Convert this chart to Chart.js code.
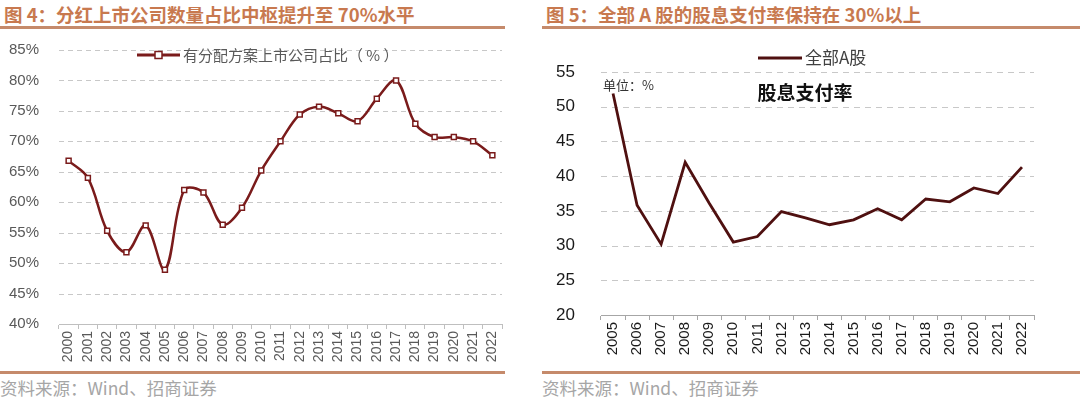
<!DOCTYPE html>
<html>
<head>
<meta charset="utf-8">
<script src="https://cdn.jsdelivr.net/npm/chart.js@4.4.0/dist/chart.umd.min.js"></script>
<style>
  body { margin: 0; background: #fff; width: 1080px; height: 397px; overflow: hidden; position: relative; }
  .title { position: absolute; top: 0; height: 26px; line-height: 28px; font-family: "Noto Sans CJK SC", sans-serif; font-weight: bold; font-size: 18.5px; color: #c8794f; white-space: nowrap; border-bottom: 3px solid #c58a6b; padding-left: 4px; box-sizing: content-box; }
  .source { position: absolute; top: 371px; height: 26px; line-height: 28px; font-family: "Noto Sans CJK SC", sans-serif; font-size: 17.5px; color: #a6a6a6; white-space: nowrap; border-top: 3px solid #c58a6b; }
  .box { position: absolute; top: 29px; height: 342px; }
</style>
</head>
<body>
<div class="title" style="left:0; width:501px;">图 4：分红上市公司数量占比中枢提升至 70%水平</div>
<div class="title" style="left:542px; width:534px;">图 5：全部 A 股的股息支付率保持在 30%以上</div>
<div class="box" style="left:0; width:530px;"><canvas id="left"></canvas></div>
<div class="box" style="left:540px; width:540px;"><canvas id="right"></canvas></div>
<div class="source" style="left:0; width:505px;">资料来源：Wind、招商证券</div>
<div class="source" style="left:542px; width:538px;">资料来源：Wind、招商证券</div>
<script>
// left chart data
const yearsLeft = ['2000','2001','2002','2003','2004','2005','2006','2007','2008','2009','2010','2011',
  '2012','2013','2014','2015','2016','2017','2018','2019','2020','2021','2022'];
const shareWithPlan = [66.8, 64.0, 55.3, 51.8, 56.2, 48.9, 62.0, 61.6, 56.3, 59.1, 65.2, 70.0,
  74.4, 75.7, 74.6, 73.3, 77.0, 80.0, 72.9, 70.7, 70.7, 70.0, 67.7];
const leftLabel = '有分配方案上市公司占比（ % ）';

// right chart data
const yearsRight = ['2005','2006','2007','2008','2009','2010','2011','2012','2013','2014','2015',
  '2016','2017','2018','2019','2020','2021','2022'];
const payoutRatio = [51.9, 35.8, 30.2, 42.0, 36.1, 30.5, 31.3, 34.9, 34.0, 33.0, 33.7,
  35.3, 33.7, 36.7, 36.3, 38.3, 37.5, 41.3];
const rightLabel = '全部A股';

const cjk = '"Noto Sans CJK SC", sans-serif';
const latin = '"Liberation Sans", Arial, sans-serif';
const leftRed = '#7a1b1b';
const rightRed = '#4f1010';

// dashed horizontal gridlines at the y ticks (bottom one is the x axis)
const dashGrid = {
  id: 'dashGrid',
  beforeDatasetsDraw(chart, args, o) {
    const c = chart.ctx;
    const y = chart.scales.y;
    const area = chart.chartArea;
    c.save();
    c.strokeStyle = o.color;
    c.lineWidth = 1;
    c.setLineDash(o.dash);
    y.ticks.forEach(t => {
      if (t.value === y.min) return;
      const py = Math.round(y.getPixelForValue(t.value)) + 0.5;
      c.beginPath();
      c.moveTo(area.left, py);
      c.lineTo(area.right, py);
      c.stroke();
    });
    c.restore();
  }
};

// draws the line legend (and extra notes) inside the canvas
const legendPlugin = {
  id: 'lineLegend',
  afterDraw(chart, args, o) {
    const c = chart.ctx;
    const ds = chart.data.datasets[0];
    c.save();
    c.strokeStyle = ds.borderColor;
    c.lineWidth = 3;
    c.beginPath();
    c.moveTo(o.x, o.y);
    c.lineTo(o.x + o.len, o.y);
    c.stroke();
    if (o.marker) {
      c.fillStyle = '#fff';
      c.lineWidth = 1.5;
      c.fillRect(o.x + o.len / 2 - 3.5, o.y - 3.5, 7, 7);
      c.strokeRect(o.x + o.len / 2 - 3.5, o.y - 3.5, 7, 7);
    }
    c.fillStyle = o.color;
    c.font = o.font;
    c.textBaseline = 'middle';
    c.fillText(ds.label, o.x + o.len + 3, o.y);
    (o.notes || []).forEach(n => {
      c.font = n.font;
      c.textAlign = n.align || 'left';
      c.fillStyle = n.color;
      c.fillText(n.text, n.x, n.y);
    });
    c.restore();
  }
};

new Chart(document.getElementById('left'), {
  type: 'line',
  data: {
    labels: yearsLeft,
    datasets: [{
      label: leftLabel,
      data: shareWithPlan,
      borderColor: leftRed,
      borderWidth: 2.5,
      tension: 0.35,
      pointStyle: 'rect',
      pointRadius: 3.5,
      pointBackgroundColor: '#fff',
      pointBorderColor: leftRed,
      pointBorderWidth: 1.5
    }]
  },
  options: {
    responsive: true,
    maintainAspectRatio: false,
    animation: false,
    layout: { padding: { top: 8, right: 28, bottom: 0, left: 0 } },
    plugins: {
      legend: { display: false },
      tooltip: { enabled: false },
      dashGrid: { color: '#c8c8c8', dash: [5, 4] },
      lineLegend: { x: 137, y: 26, len: 43, marker: true, color: '#595959', font: '15px ' + cjk }
    },
    scales: {
      x: {
        offset: true,
        grid: { offset: true, drawOnChartArea: false, drawTicks: true, tickLength: 5, color: '#bfbfbf' },
        border: { display: true, color: '#bfbfbf' },
        ticks: { autoSkip: false, minRotation: 90, maxRotation: 90, padding: 2, color: '#595959', font: { family: latin, size: 14 } },
        afterFit(s) { s.height = 47; }
      },
      y: {
        min: 40, max: 85,
        ticks: { stepSize: 5, padding: 12, color: '#595959', font: { family: latin, size: 15 }, callback: v => v + '%' },
        grid: { display: false },
        border: { display: false },
        afterFit(s) { s.width = 59; }
      }
    }
  },
  plugins: [dashGrid, legendPlugin]
});

new Chart(document.getElementById('right'), {
  type: 'line',
  data: {
    labels: yearsRight,
    datasets: [{
      label: rightLabel,
      data: payoutRatio,
      borderColor: rightRed,
      borderWidth: 2.8,
      tension: 0,
      pointRadius: 0
    }]
  },
  options: {
    responsive: true,
    maintainAspectRatio: false,
    animation: false,
    layout: { padding: { top: 43, right: 46, bottom: 0, left: 0 } },
    plugins: {
      legend: { display: false },
      tooltip: { enabled: false },
      dashGrid: { color: '#c8c8c8', dash: [6, 5] },
      lineLegend: {
        x: 218, y: 29, len: 44, marker: false, color: '#404040', font: '17px ' + cjk,
        notes: [
          { text: '单位：%', x: 63, y: 56, font: '13px ' + cjk, color: '#333' },
          { text: '股息支付率', x: 265, y: 64, align: 'center', font: 'bold 19px ' + cjk, color: '#111' }
        ]
      }
    },
    scales: {
      x: {
        offset: true,
        grid: { offset: true, drawOnChartArea: false, drawTicks: true, tickLength: 5, color: '#a6a6a6' },
        border: { display: true, color: '#a6a6a6' },
        ticks: { autoSkip: false, minRotation: 90, maxRotation: 90, padding: 2, color: '#1a1a1a', font: { family: latin, size: 15 } },
        afterFit(s) { s.height = 56; }
      },
      y: {
        min: 20, max: 55,
        ticks: { stepSize: 5, padding: 18, color: '#1a1a1a', font: { family: latin, size: 17 } },
        grid: { display: false },
        border: { display: false },
        afterFit(s) { s.width = 61; }
      }
    }
  },
  plugins: [dashGrid, legendPlugin]
});
</script>
</body>
</html>
